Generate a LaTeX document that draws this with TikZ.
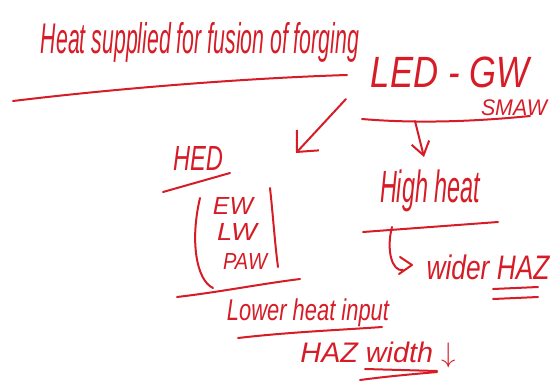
\documentclass[tikz,border=0pt]{standalone}
\usepackage{graphicx}
\usepackage{fontspec}
\setmainfont{Liberation Sans}
\usetikzlibrary{arrows.meta}
\definecolor{ink}{RGB}{214,28,38}
\tikzset{
  hand/.style={text=ink, inner sep=0pt, font=\itshape},
  pen/.style={draw=ink, line width=2pt, line cap=round, line join=round},
  bigtip/.style={-{Straight Barb[length=16pt,width=30pt,line width=2pt]}},
  tip/.style={-{Straight Barb[length=13pt,width=18pt,line width=2pt]}}
}
% scale a text to a given width and total height
\newcommand{\fitwh}[3]{\resizebox*{#1}{#2}{#3}}
\begin{document}
\begin{tikzpicture}[x=1pt,y=-1pt]
\useasboundingbox (0,0) rectangle (554,383);
% title line
\node[hand] (title) at (200,42) {\fitwh{318pt}{40pt}{Heat supplied for fusion of forging}};
\draw[pen] (13,101) .. controls (120,88) and (250,78) .. (347,75);
% LED branch
\node[hand] (led) at (450,72) {\fitwh{158pt}{31pt}{LED - GW}};
\node[hand] (smaw) at (514,108) {\fitwh{66pt}{16pt}{SMAW}};
\draw[pen] (362,119) .. controls (420,124) and (480,121) .. (530,116);
\coordinate (fork) at (415,121);
% HED
\node[hand] (hed) at (198,158) {\fitwh{50pt}{24pt}{HED}};
\draw[pen] (163,192) -- (230,173);
\coordinate (diagstart) at (346,99);
\draw[pen,bigtip] (diagstart) -- (296,153);
\node[hand] (ew) at (233,206) {\fitwh{40pt}{17pt}{EW}};
\node[hand] (lw) at (237,232) {\fitwh{40pt}{17pt}{LW}};
\node[hand] (paw) at (245,261) {\fitwh{44pt}{16pt}{PAW}};
\draw[pen] (200,198) .. controls (190,240) and (196,280) .. (213,288);
\draw[pen] (270,188) .. controls (273,215) and (275,245) .. (278,267);
\draw[pen] (177,297) .. controls (220,292) and (260,284) .. (300,279);
\node[hand] (low) at (308,313) {\fitwh{162pt}{28pt}{Lower heat input}};
\draw[pen] (238,338) .. controls (290,332) and (340,330) .. (382,327);
\node[hand] (hazw) at (378,355) {\fitwh{155pt}{26pt}{HAZ width $\downarrow$}};
\draw[pen] (365,369) -- (437,371);
\draw[pen] (360,380) .. controls (390,376) and (415,374) .. (437,372);
% GW branch
\draw[pen,tip] (fork) -- (424,157);
\node[hand] (high) at (430,191) {\fitwh{100pt}{42pt}{High heat}};
\draw[pen] (363,232) -- (498,222);
\coordinate (hookstart) at (392,227);
\draw[pen] (hookstart) .. controls (386,250) and (392,272) .. (403,270);
\draw[pen] (400,257) -- (412,265) -- (399,274);
\node[hand] (wide) at (488,267) {\fitwh{123pt}{25pt}{wider HAZ}};
\draw[pen] (493,289) -- (538,287);
\draw[pen] (493,299) -- (538,297);
\end{tikzpicture}
\end{document}
